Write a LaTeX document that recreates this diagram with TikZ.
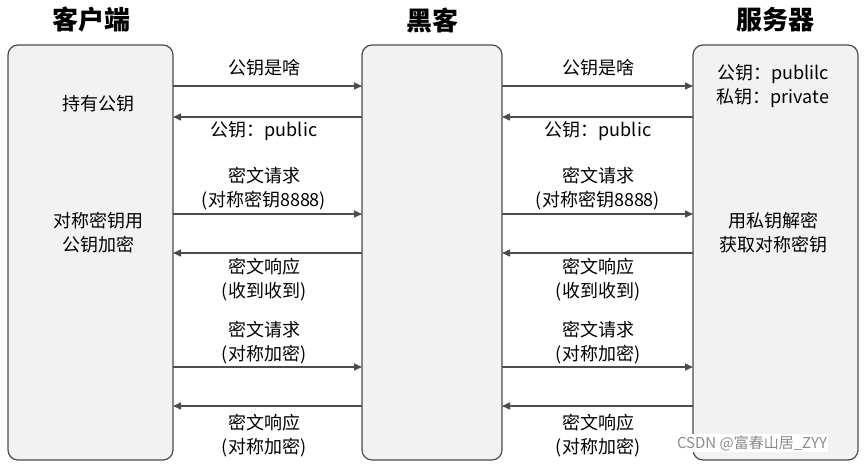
\documentclass[tikz,border=0pt]{standalone}
\usepackage{fontspec}
\setmainfont{Noto Sans CJK SC}
\usetikzlibrary{arrows.meta}
\begin{document}
\begin{tikzpicture}[x=1pt,y=-1pt,
  lane/.style={draw=black!70,line width=1.2pt,fill=black!5,rounded corners=10pt},
  msg/.style={draw=black!70,line width=1.5pt,-{Triangle[length=8pt,width=7pt]}},
  lbl/.style={font=\fontsize{18}{21}\selectfont,inner sep=0pt,align=center},
  hdr/.style={font=\fontsize{26}{30}\selectfont\bfseries,inner sep=0pt}]
\useasboundingbox (0,0) rectangle (867,464);
\draw[lane] (8,45) rectangle (173,460);
\draw[lane] (362,45) rectangle (502,460);
\draw[lane] (693,45) rectangle (858,460);
\node[hdr] (h1) at (91,20) {客户端};
\node[hdr] (h2) at (432,20) {黑客};
\node[hdr] (h3) at (775,20) {服务器};
\node[lbl] (c1) at (98,104) {持有公钥};
\node[lbl] (c2) at (98,233) {对称密钥用\\[3pt]公钥加密};
\node[lbl] (s1) at (773,86) {公钥：publilc\\[3pt]私钥：private};
\node[lbl] (s2) at (773,233) {用私钥解密\\[3pt]获取对称密钥};
\foreach \i/\y in {1/86,2/117,3/214,4/253,5/367,6/406}{
  \coordinate (L\i) at (173,\y); \coordinate (H\i) at (362,\y);
  \coordinate (K\i) at (502,\y); \coordinate (S\i) at (693,\y);}
\foreach \i in {1,3,5}{\draw[msg] (L\i)--(H\i); \draw[msg] (K\i)--(S\i);}
\foreach \i in {2,4,6}{\draw[msg] (H\i)--(L\i); \draw[msg] (S\i)--(K\i);}
\foreach \x in {264,598}{
 \node[lbl] at (\x,68) {公钥是啥};
 \node[lbl] at (\x,131) {公钥：public};
 \node[lbl] at (\x,189) {密文请求\\[3pt](对称密钥8888)};
 \node[lbl] at (\x,280) {密文响应\\[3pt](收到收到)};
 \node[lbl] at (\x,343) {密文请求\\[3pt](对称加密)};
 \node[lbl] at (\x,436) {密文响应\\[3pt](对称加密)};}
\node[lbl,font=\fontsize{15}{18}\selectfont,text=black!45,fill=white,inner sep=1pt] (wm) at (752,443) {CSDN @富春山居\_ZYY};
\end{tikzpicture}
\end{document}
